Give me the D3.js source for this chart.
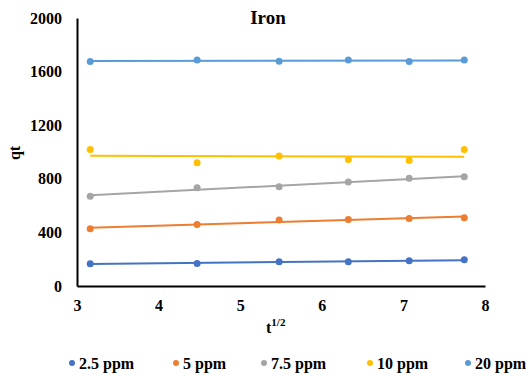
<!DOCTYPE html>
<html>
<head>
<meta charset="utf-8">
<script src="https://cdn.jsdelivr.net/npm/d3@7"></script>
<style>
  html, body { margin: 0; padding: 0; background: #fff; }
  svg text { font-family: "Liberation Serif", "Times New Roman", serif; font-weight: bold; fill: #000; }
</style>
</head>
<body>
<svg id="chart" width="531" height="376"></svg>
<script>
// Square root of contact time (t^1/2) for each sampling point
const sqrtT = [3.162, 4.472, 5.477, 6.325, 7.071, 7.746];

// Adsorbed amount qt for each initial concentration
const series = ["2.5 ppm", "5 ppm", "7.5 ppm", "10 ppm", "20 ppm"];
const colors = ["#4472C4", "#ED7D31", "#A5A5A5", "#FFC000", "#5B9BD5"];
const q25 = [166, 168, 181, 181, 188, 195];
const q5 = [427, 459, 492, 496, 504, 509];
const q75 = [670, 733, 740, 777, 804, 815];
const q10 = [1018, 919, 971, 944, 936, 1018];
const q20 = [1675, 1687, 1677, 1687, 1675, 1687];
const values = [q25, q5, q75, q10, q20];

const xTicks = [3, 4, 5, 6, 7, 8];
const yTicks = [0, 400, 800, 1200, 1600, 2000];

const svg = d3.select("#chart");
const x = d3.scaleLinear().domain([3, 8]).range([77, 485]);
const y = d3.scaleLinear().domain([0, 2000]).range([286, 18]);

// least-squares trend line through each series
function fit(xs, ys) {
  const mx = d3.mean(xs), my = d3.mean(ys);
  const b = d3.sum(xs, (v, i) => (v - mx) * (ys[i] - my)) / d3.sum(xs, v => (v - mx) * (v - mx));
  return v => my + b * (v - mx);
}

const plot = svg.append("g");
values.forEach((vals, k) => {
  const f = fit(sqrtT, vals);
  const x0 = sqrtT[0], x1 = sqrtT[sqrtT.length - 1];
  plot.append("line")
    .attr("x1", x(x0)).attr("y1", y(f(x0)))
    .attr("x2", x(x1)).attr("y2", y(f(x1)))
    .attr("stroke", colors[k]).attr("stroke-width", 2);
  plot.selectAll(null).data(vals).enter().append("circle")
    .attr("cx", (d, i) => x(sqrtT[i])).attr("cy", d => y(d))
    .attr("r", 3.5).attr("fill", colors[k]);
});

// axes
const xAxis = svg.append("g").attr("transform", "translate(0,286)")
  .call(d3.axisBottom(x).tickValues(xTicks).tickSize(0).tickPadding(14).tickFormat(d3.format("d")));
const yAxis = svg.append("g").attr("transform", "translate(77,0)")
  .call(d3.axisLeft(y).tickValues(yTicks).tickSize(0).tickPadding(15).tickFormat(d3.format("d")));
[xAxis, yAxis].forEach(a => {
  a.attr("font-family", null).attr("font-size", null);
  a.select(".domain").attr("stroke", "#000").attr("stroke-width", 2);
  a.selectAll("text").style("font-size", "16px");
});

// titles
svg.append("text").attr("x", 268).attr("y", 24).attr("text-anchor", "middle")
  .style("font-size", "19px").text("Iron");
svg.append("text").attr("transform", "translate(20,153) rotate(-90)").attr("text-anchor", "middle")
  .style("font-size", "16px").text("qt");
const xt = svg.append("text").attr("x", 266).attr("y", 333).style("font-size", "16px");
xt.append("tspan").text("t");
xt.append("tspan").attr("dy", -7).style("font-size", "11px").text("1/2");

// legend
const legendX = [72, 176, 264, 370, 468];
const lg = svg.append("g").selectAll("g").data(series).enter().append("g")
  .attr("transform", (d, i) => `translate(${legendX[i]},363)`);
lg.append("circle").attr("r", 3).attr("fill", (d, i) => colors[i]);
lg.append("text").attr("x", 7).attr("y", 5.5).style("font-size", "16px").text(d => d);
</script>
</body>
</html>
